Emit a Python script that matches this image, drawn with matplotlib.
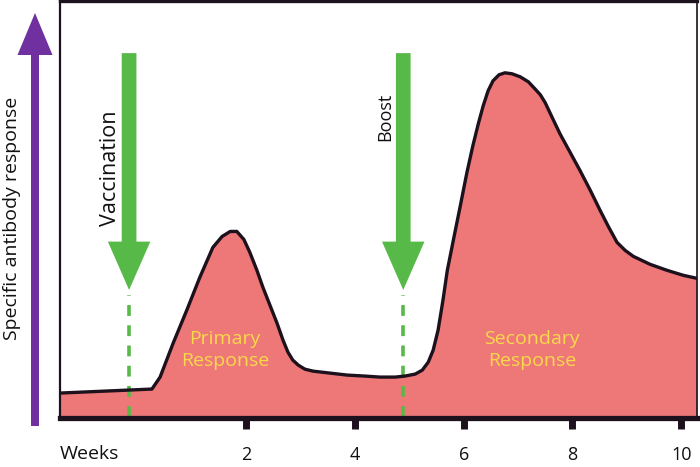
import matplotlib.pyplot as plt
from matplotlib.patches import FancyArrow

plt.rcParams['font.family'] = ['Open Sans', 'DejaVu Sans']

# antibody response curve, x in weeks, y in arbitrary units (0-100)
weeks = [-1.42, 0.27, 0.42, 0.66, 0.91, 1.15, 1.39, 1.56, 1.71, 1.83,
         1.96, 2.07, 2.20, 2.31, 2.44, 2.57, 2.68, 2.77, 2.86, 2.96,
         3.08, 3.23, 3.54, 3.86, 4.19, 4.46, 4.74, 4.92, 5.11, 5.24,
         5.35, 5.44, 5.53, 5.62, 5.70, 5.81, 5.94, 6.06, 6.17, 6.27,
         6.36, 6.45, 6.54, 6.65, 6.76, 6.89, 7.04, 7.19, 7.31, 7.41,
         7.50, 7.63, 7.77, 7.96, 8.14, 8.33, 8.51, 8.66, 8.82, 8.97,
         9.12, 9.43, 9.74, 10.04, 10.29]
response = [5.98, 6.94, 9.81, 17.94, 25.84, 33.73, 40.91, 43.54, 44.74, 44.74,
            42.82, 39.71, 35.41, 31.34, 27.03, 22.73, 18.66, 15.79, 13.88, 12.68,
            11.72, 11.24, 10.77, 10.29, 10.05, 9.81, 9.81, 10.05, 10.53, 11.48,
            13.40, 16.27, 21.05, 28.23, 35.41, 42.58, 50.96, 58.85, 65.31, 70.57,
            74.88, 78.47, 80.86, 82.30, 82.78, 82.54, 81.82, 80.62, 78.95, 77.51,
            75.60, 72.01, 68.18, 63.64, 59.33, 54.55, 49.76, 45.93, 42.11, 40.19,
            38.76, 36.84, 35.41, 34.21, 33.49]

tick_weeks = [2, 4, 6, 8, 10]
vaccination_week = -0.15
boost_week = 4.89

dark = '#1c111c'
fill_col = '#ee7878'
green = '#57b947'
purple = '#70309f'
yellow = '#f8d94a'

fig = plt.figure(figsize=(7, 4.67), dpi=100)
ax = fig.add_axes([60 / 700, 49 / 467, 637 / 700, 417 / 467])
ax.set_xlim(-1.42, 10.29)
ax.set_ylim(0, 100)

ax.fill_between(weeks, response, 0, color=fill_col, lw=0, zorder=1)
ax.plot(weeks, response, color=dark, lw=2.4, solid_joinstyle='round',
        solid_capstyle='round', zorder=3)

# frame
for side, w in [('left', 1.6), ('right', 1.2), ('top', 2.4), ('bottom', 3.8)]:
    ax.spines[side].set_color(dark)
    ax.spines[side].set_linewidth(w)
ax.spines['bottom'].set_zorder(5)

ax.set_yticks([])
ax.set_xticks(tick_weeks)
ax.set_xticklabels([str(t) for t in tick_weeks])
ax.tick_params(axis='x', direction='out', length=8, width=5, color=dark,
               pad=12, labelsize=13, labelcolor='#111111')

# vaccination and boost arrows with dashed guide lines
for wk, label, ty, fs in [(vaccination_week, 'Vaccination', 59.8, 15.5),
                          (boost_week, 'Boost', 72.2, 13)]:
    arr = FancyArrow(wk, 87.5, 0, -56.8, width=0.27, head_width=0.78,
                     head_length=11.6, length_includes_head=True,
                     color=green, lw=0, zorder=4)
    ax.add_patch(arr)
    ax.plot([wk, wk], [0.3, 29.5], color=green, lw=2.6,
            dashes=(3.0, 2.6), zorder=2)
    ax.text(wk - 0.34, ty, label, rotation=90, ha='center', va='center',
            fontsize=fs, color='#111111')

ax.text(1.61, 16.3, 'Primary\nResponse', ha='center', va='center',
        fontsize=14, color=yellow, linespacing=1.3, zorder=4)
ax.text(7.26, 16.3, 'Secondary\nResponse', ha='center', va='center',
        fontsize=14, color=yellow, linespacing=1.3, zorder=4)

# y axis arrow and label
fig.patches.append(FancyArrow(35 / 700, 41 / 467, 0, 413 / 467, width=8 / 700,
                              head_width=35 / 700, head_length=42 / 467,
                              length_includes_head=True, color=purple, lw=0,
                              transform=fig.transFigure, figure=fig))
fig.text(12 / 700, 1 - 218 / 467, 'Specific antibody response', rotation=90,
         ha='center', va='center', fontsize=14, color='#111111')
fig.text(60 / 700, 1 - 454 / 467, 'Weeks', ha='left', va='center',
         fontsize=14, color='#111111')

fig.savefig('out.png', dpi=100)
